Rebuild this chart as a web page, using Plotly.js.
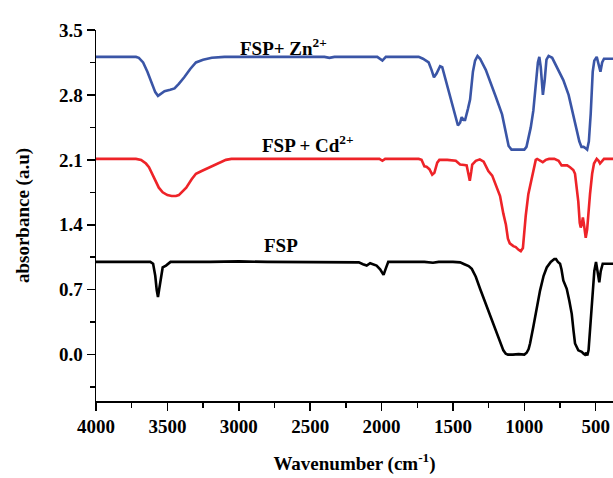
<!DOCTYPE html>
<html>
<head>
<meta charset="utf-8">
<script src="https://cdn.plot.ly/plotly-3.0.1.min.js"></script>
<style>html,body{margin:0;padding:0;background:#fff;}#chart{width:613px;height:478px;}</style>
</head>
<body>
<div id="chart"></div>
<script>
// ---- data ----
const seriesNames = ["FSP", "FSP + Cd2+", "FSP+ Zn2+"];

const znWave = [4000,3900,3800,3720,3700,3670,3640,3610,3585,3566,3550,3520,3480,3450,3420,3382,3340,3300,3250,3189,3100,3000,2800,2600,2400,2365,2330,2100,2030,1994,1970,1800,1740,1710,1690,1670,1650,1633,1615,1590,1575,1545,1513,1490,1465,1450,1439,1425,1415,1395,1380,1360,1345,1328,1310,1270,1239,1200,1156,1130,1110,1090,1050,1000,985,970,955,937,920,905,895,885,870,858,845,830,805,770,727,690,668,640,615,600,585,575,560,548,535,521,510,493,480,467,455,442,420,379];
const znAbs  = [3.21,3.21,3.205,3.21,3.20,3.15,3.05,2.93,2.83,2.79,2.81,2.84,2.855,2.87,2.92,2.99,3.08,3.15,3.18,3.20,3.21,3.21,3.21,3.21,3.21,3.20,3.21,3.21,3.21,3.17,3.21,3.21,3.21,3.19,3.17,3.15,3.07,2.99,3.03,3.11,3.10,2.92,2.74,2.60,2.47,2.50,2.56,2.53,2.53,2.65,2.75,3.05,3.17,3.22,3.19,3.07,2.95,2.78,2.59,2.38,2.25,2.21,2.21,2.21,2.24,2.34,2.45,2.63,2.90,3.15,3.21,3.10,2.80,2.95,3.18,3.22,3.20,3.10,2.96,2.80,2.66,2.48,2.30,2.24,2.24,2.23,2.21,2.30,2.60,3.05,3.17,3.21,3.14,3.05,3.15,3.19,3.19,3.19];

const cdWave = [4000,3800,3720,3684,3650,3629,3600,3587,3560,3533,3500,3470,3440,3420,3395,3368,3330,3300,3260,3230,3180,3134,3090,3052,2800,2600,2400,2100,2015,1994,1975,1740,1720,1700,1685,1665,1645,1630,1610,1595,1540,1480,1450,1420,1404,1392,1382,1372,1365,1340,1312,1285,1252,1225,1193,1170,1147,1129,1115,1102,1077,1060,1040,1025,1010,1002,990,972,955,937,920,910,890,871,850,827,790,760,739,717,700,680,657,645,634,622,612,605,598,590,582,570,560,548,540,525,512,493,480,470,455,442,420,379];
const cdAbs  = [2.11,2.11,2.11,2.10,2.06,2.02,1.93,1.875,1.80,1.75,1.72,1.71,1.71,1.72,1.76,1.80,1.89,1.95,1.98,2.00,2.04,2.07,2.10,2.11,2.11,2.11,2.11,2.11,2.11,2.09,2.11,2.11,2.10,2.03,2.025,2.00,1.94,1.96,2.07,2.10,2.10,2.09,2.05,2.045,2.04,1.95,1.875,1.97,2.05,2.09,2.105,2.08,1.98,1.93,1.80,1.71,1.52,1.40,1.25,1.20,1.17,1.16,1.13,1.115,1.15,1.30,1.50,1.73,1.85,2.00,2.10,2.11,2.09,2.075,2.10,2.11,2.11,2.09,2.04,2.04,2.04,2.02,1.99,1.95,1.82,1.65,1.42,1.37,1.40,1.48,1.40,1.26,1.35,1.62,1.73,1.95,2.06,2.11,2.09,2.06,2.09,2.11,2.11,2.11];

const fspWave = [4000,3900,3800,3700,3620,3600,3585,3575,3566,3558,3546,3533,3510,3495,3478,3200,3000,2800,2400,2200,2159,2130,2104,2080,2060,2035,2010,1994,1986,1970,1953,1900,1700,1640,1600,1500,1470,1450,1420,1390,1368,1340,1310,1280,1252,1220,1193,1170,1147,1130,1115,1080,1040,1000,984,970,960,937,915,890,865,843,815,790,778,765,750,740,727,715,703,685,668,655,645,622,598,585,575,565,559,550,540,530,521,510,498,487,475,465,451,430,379];
const fspAbs  = [1.0,1.0,0.995,1.0,1.0,0.98,0.85,0.70,0.62,0.70,0.835,0.94,0.96,0.98,1.0,1.0,1.005,1.0,1.0,1.0,0.995,0.975,0.96,0.985,0.975,0.96,0.92,0.88,0.86,0.93,1.0,1.0,1.0,0.99,1.0,1.0,1.0,0.995,0.975,0.955,0.925,0.84,0.71,0.59,0.477,0.35,0.226,0.13,0.046,0.01,0.0,0.0,0.005,0.0,0.02,0.06,0.12,0.30,0.50,0.69,0.85,0.94,1.00,1.03,1.03,1.0,0.98,0.92,0.80,0.75,0.71,0.58,0.44,0.25,0.12,0.046,0.03,0.01,0.0,0.02,-0.01,0.05,0.26,0.50,0.69,0.90,1.00,0.90,0.78,0.90,0.98,0.98,0.98];

const xTickVals = [4000,3500,3000,2500,2000,1500,1000,500];
const xTickText = ["4000","3500","3000","2500","2000","1500","1000","500"];
const yTickVals = [0.0,0.7,1.4,2.1,2.8,3.5];
const yTickText = ["0.0","0.7","1.4","2.1","2.8","3.5"];

const labelText = ["FSP+ Zn<sup>2+</sup>", "FSP + Cd<sup>2+</sup>", "FSP"];
const labelX = [2690, 2515, 2704];
const labelY = [3.32, 2.27, 1.18];

// ---- plot ----
const FONT = "Liberation Serif, Times New Roman, serif";
const traces = [
  {x: fspWave, y: fspAbs, name: seriesNames[0], mode: "lines", line: {color: "#000000", width: 2.6}},
  {x: cdWave, y: cdAbs, name: seriesNames[1], mode: "lines", line: {color: "#EE2328", width: 2.6}},
  {x: znWave, y: znAbs, name: seriesNames[2], mode: "lines", line: {color: "#3A55A6", width: 2.6}}
];

const annotations = labelText.map((t, i) => ({
  x: labelX[i], y: labelY[i], xref: "x", yref: "y", text: t, showarrow: false,
  font: {family: FONT, size: 19, color: "#000", weight: "bold"}
}));

const layout = {
  width: 613, height: 478,
  margin: {l: 96, r: 0, t: 30, b: 77},
  paper_bgcolor: "#fff", plot_bgcolor: "#fff",
  showlegend: false,
  font: {family: FONT, color: "#000", weight: "bold"},
  xaxis: {
    range: [4000, 379],
    tickmode: "array", tickvals: xTickVals, ticktext: xTickText,
    ticks: "outside", ticklen: 8, tickwidth: 1.5, tickcolor: "#000",
    minor: {dtick: 250, tick0: 0, ticks: "outside", ticklen: 5, tickwidth: 1.5, tickcolor: "#000", showgrid: false},
    showline: true, linecolor: "#000", linewidth: 1.5, mirror: false,
    showgrid: false, zeroline: false,
    tickfont: {family: FONT, size: 19, color: "#000", weight: "bold"},
    title: {text: "Wavenumber (cm<sup>-1</sup>)", font: {family: FONT, size: 19, color: "#000", weight: "bold"}, standoff: 20}
  },
  yaxis: {
    range: [-0.5, 3.5],
    tickmode: "array", tickvals: yTickVals, ticktext: yTickText,
    ticks: "outside", ticklen: 8, tickwidth: 1.5, tickcolor: "#000",
    minor: {dtick: 0.35, tick0: 0, ticks: "outside", ticklen: 5, tickwidth: 1.5, tickcolor: "#000", showgrid: false},
    showline: true, linecolor: "#000", linewidth: 1.5, mirror: false,
    showgrid: false, zeroline: false,
    tickfont: {family: FONT, size: 19, color: "#000", weight: "bold"},
    title: {text: "absorbance (a.u)", font: {family: FONT, size: 19, color: "#000", weight: "bold"}, standoff: 24}
  },
  annotations: annotations
};

Plotly.newPlot("chart", traces, layout, {staticPlot: true, displayModeBar: false});
</script>
</body>
</html>
